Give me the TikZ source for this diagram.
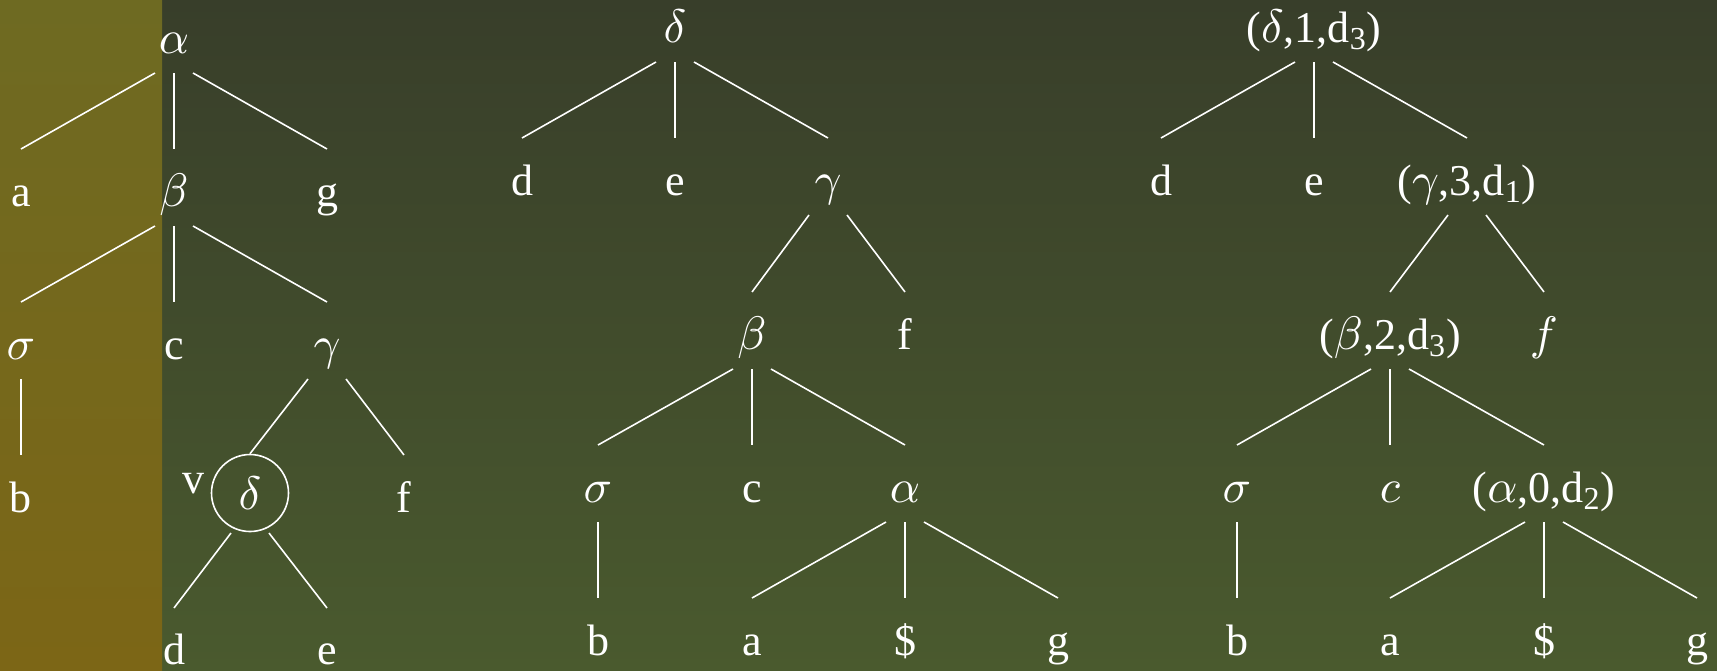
\RequirePackage{fix-cm}
\documentclass[tikz,border=0pt]{standalone}
\usepackage{fontspec}
\setmainfont{Liberation Serif}
\usetikzlibrary{calc}
% scale the 10pt design of the math italic to every size
\DeclareFontShape{OML}{cmm}{m}{it}{<->cmmi10}{\skewchar\font'177}
% Greek labels a little larger than the roman ones
\DeclareMathSizes{22}{23.5}{16}{12}

\definecolor{stripTop}{RGB}{110,106,34}
\definecolor{stripBot}{RGB}{124,102,22}
\definecolor{boardTop}{RGB}{56,62,42}
\definecolor{boardBot}{RGB}{74,90,46}

% parent -> child connector: starts below the parent's baseline (shifted sideways by #2),
% ends above the child's baseline
\newcommand\branch[3]{\draw[edge] ([shift={(#2,20)}]#1.base) -- ([shift={(0,-57)}]#3.base);}

\begin{document}
\begin{tikzpicture}[x=0.5pt, y=-0.5pt,
  lbl/.style={text=white, inner sep=0pt, anchor=base, font=\fontsize{22pt}{26pt}\selectfont},
  edge/.style={draw=white, line width=0.8pt},
  ring/.style={draw=white, line width=0.8pt, circle, minimum size=38.5pt, inner sep=0pt,
               text=white, font=\fontsize{22pt}{26pt}\selectfont}]

\useasboundingbox (0,0) rectangle (1717,670);
\shade[top color=boardTop, bottom color=boardBot] (0,0) rectangle (1717,670);
\shade[top color=stripTop, bottom color=stripBot] (0,0) rectangle (162,670);

% ---- left tree ----
\node[lbl] (La)    at (174,53)  {$\alpha$};
\node[lbl] (Laa)   at (21,206)  {a};
\node[lbl] (Lbeta) at (174,206) {$\beta$};
\node[lbl] (Lg)    at (327,206) {g};
\node[lbl] (Lsig)  at (21,359)  {$\sigma$};
\node[lbl] (Lc)    at (174,359) {c};
\node[lbl] (Lgam)  at (327,359) {$\gamma$};
\node[lbl] (Lb)    at (21,512)  {b};
\node[ring] (Ldel) at (250,493) {$\delta$};
\node[lbl] (Lv)    at (193,493) {v};
\node[lbl] (Lf)    at (404,512) {f};
\node[lbl] (Ld)    at (174,664) {d};
\node[lbl] (Le)    at (327,664) {e};

\branch{La}{-19}{Laa}
\branch{La}{0}{Lbeta}
\branch{La}{19}{Lg}
\branch{Lbeta}{-19}{Lsig}
\branch{Lbeta}{0}{Lc}
\branch{Lbeta}{19}{Lgam}
\branch{Lsig}{0}{Lb}
\draw[edge] ([shift={(-19,20)}]Lgam.base) -- (Ldel.north);
\branch{Lgam}{19}{Lf}
\draw[edge] ([shift={(-19,40)}]Ldel.center) -- ([shift={(0,-56)}]Ld.base);
\draw[edge] ([shift={(19,40)}]Ldel.center) -- ([shift={(0,-56)}]Le.base);

% ---- middle tree ----
\node[lbl] (Mdel)  at (675,42)  {$\delta$};
\node[lbl] (Md)    at (522,195) {d};
\node[lbl] (Me)    at (675,195) {e};
\node[lbl] (Mgam)  at (828,195) {$\gamma$};
\node[lbl] (Mbeta) at (752,349) {$\beta$};
\node[lbl] (Mf)    at (905,349) {f};
\node[lbl] (Msig)  at (598,502) {$\sigma$};
\node[lbl] (Mc)    at (752,502) {c};
\node[lbl] (Malp)  at (905,502) {$\alpha$};
\node[lbl] (Mb)    at (598,655) {b};
\node[lbl] (Ma)    at (752,655) {a};
\node[lbl] (Mdol)  at (905,655) {\$};
\node[lbl] (Mg)    at (1058,655) {g};

\branch{Mdel}{-19}{Md}
\branch{Mdel}{0}{Me}
\branch{Mdel}{19}{Mgam}
\branch{Mgam}{-19}{Mbeta}
\branch{Mgam}{19}{Mf}
\branch{Mbeta}{-19}{Msig}
\branch{Mbeta}{0}{Mc}
\branch{Mbeta}{19}{Malp}
\branch{Msig}{0}{Mb}
\branch{Malp}{-19}{Ma}
\branch{Malp}{0}{Mdol}
\branch{Malp}{19}{Mg}

% ---- right tree (annotated) ----
\node[lbl] (Rdel)  at (1314,42)  {($\delta$,1,d\textsubscript{3})};
\node[lbl] (Rd)    at (1161,195) {d};
\node[lbl] (Re)    at (1314,195) {e};
\node[lbl] (Rgam)  at (1467,195) {($\gamma$,3,d\textsubscript{1})};
\node[lbl] (Rbeta) at (1390,349) {($\beta$,2,d\textsubscript{3})};
\node[lbl] (Rf)    at (1544,349) {$f$};
\node[lbl] (Rsig)  at (1237,502) {$\sigma$};
\node[lbl] (Rc)    at (1390,502) {$c$};
\node[lbl] (Ralp)  at (1544,502) {($\alpha$,0,d\textsubscript{2})};
\node[lbl] (Rb)    at (1237,655) {b};
\node[lbl] (Ra)    at (1390,655) {a};
\node[lbl] (Rdol)  at (1544,655) {\$};
\node[lbl] (Rg)    at (1697,655) {g};

\branch{Rdel}{-19}{Rd}
\branch{Rdel}{0}{Re}
\branch{Rdel}{19}{Rgam}
\branch{Rgam}{-19}{Rbeta}
\branch{Rgam}{19}{Rf}
\branch{Rbeta}{-19}{Rsig}
\branch{Rbeta}{0}{Rc}
\branch{Rbeta}{19}{Ralp}
\branch{Rsig}{0}{Rb}
\branch{Ralp}{-19}{Ra}
\branch{Ralp}{0}{Rdol}
\branch{Ralp}{19}{Rg}

\end{tikzpicture}
\end{document}
